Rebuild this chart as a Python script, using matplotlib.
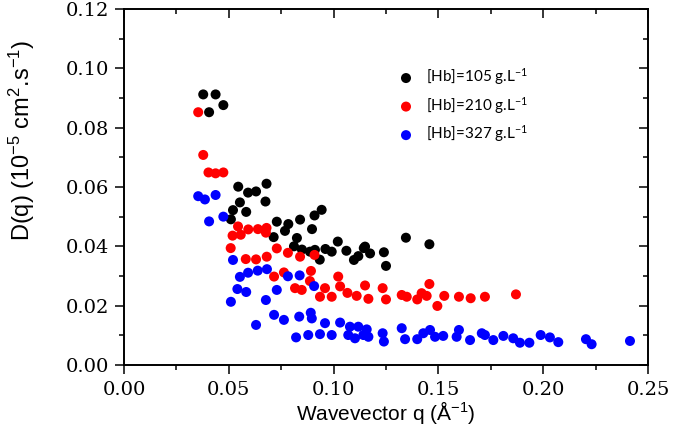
import matplotlib
matplotlib.use("Agg")
from matplotlib import pyplot as plt
from matplotlib.ticker import MultipleLocator

# [Hb]=105 g/L
q_105 = [0.0378, 0.0437, 0.0474, 0.0406, 0.0545, 0.0592, 0.0630, 0.0680, 0.0675, 0.0553,
         0.0520, 0.0583, 0.0510, 0.0729, 0.0784, 0.0840, 0.0768, 0.0714, 0.0825, 0.0909,
         0.0943, 0.0897, 0.0811, 0.0849, 0.0887, 0.0911, 0.0934, 0.0961, 0.0991, 0.1020,
         0.1061, 0.1097, 0.1118, 0.1144, 0.1150, 0.1174, 0.1240, 0.1250, 0.1345, 0.1457]
d_105 = [0.0912, 0.0912, 0.0876, 0.0852, 0.0601, 0.0581, 0.0585, 0.0611, 0.0551, 0.0548,
         0.0522, 0.0516, 0.0491, 0.0483, 0.0475, 0.0490, 0.0452, 0.0431, 0.0428, 0.0504,
         0.0523, 0.0458, 0.0400, 0.0389, 0.0382, 0.0388, 0.0355, 0.0391, 0.0382, 0.0416,
         0.0385, 0.0354, 0.0367, 0.0394, 0.0399, 0.0376, 0.0380, 0.0334, 0.0429, 0.0407]

# [Hb]=210 g/L
q_210 = [0.0354, 0.0378, 0.0403, 0.0437, 0.0474, 0.0544, 0.0593, 0.0639, 0.0680, 0.0518,
         0.0557, 0.0509, 0.0581, 0.0630, 0.0681, 0.0677, 0.0729, 0.0782, 0.0840, 0.0909,
         0.0716, 0.0763, 0.0816, 0.0848, 0.0892, 0.0887, 0.0935, 0.0959, 0.0991, 0.1022,
         0.1031, 0.1066, 0.1110, 0.1150, 0.1166, 0.1234, 0.1250, 0.1325, 0.1349, 0.1399,
         0.1420, 0.1444, 0.1457, 0.1495, 0.1528, 0.1598, 0.1654, 0.1722, 0.1870]
d_210 = [0.0852, 0.0708, 0.0649, 0.0646, 0.0649, 0.0467, 0.0457, 0.0458, 0.0462, 0.0436,
         0.0439, 0.0394, 0.0357, 0.0356, 0.0365, 0.0446, 0.0393, 0.0378, 0.0365, 0.0371,
         0.0298, 0.0312, 0.0259, 0.0253, 0.0317, 0.0283, 0.0230, 0.0259, 0.0230, 0.0298,
         0.0265, 0.0243, 0.0233, 0.0268, 0.0223, 0.0259, 0.0221, 0.0236, 0.0230, 0.0221,
         0.0242, 0.0233, 0.0273, 0.0199, 0.0233, 0.0230, 0.0225, 0.0230, 0.0238]

# [Hb]=327 g/L
q_327 = [0.0354, 0.0386, 0.0437, 0.0474, 0.0406, 0.0520, 0.0553, 0.0592, 0.0638, 0.0682,
         0.0541, 0.0583, 0.0510, 0.0677, 0.0630, 0.0729, 0.0782, 0.0838, 0.0907, 0.0716,
         0.0763, 0.0836, 0.0891, 0.0896, 0.0959, 0.1031, 0.1078, 0.1118, 0.1158, 0.0821,
         0.0879, 0.0935, 0.0991, 0.1070, 0.1102, 0.1142, 0.1166, 0.1234, 0.1240, 0.1325,
         0.1341, 0.1399, 0.1428, 0.1460, 0.1484, 0.1523, 0.1598, 0.1587, 0.1651, 0.1707,
         0.1722, 0.1762, 0.1810, 0.1857, 0.1889, 0.1934, 0.1988, 0.2032, 0.2072, 0.2204,
         0.2231, 0.2414]
d_327 = [0.0569, 0.0558, 0.0573, 0.0500, 0.0484, 0.0354, 0.0297, 0.0311, 0.0318, 0.0323,
         0.0256, 0.0246, 0.0213, 0.0219, 0.0135, 0.0253, 0.0299, 0.0302, 0.0266, 0.0169,
         0.0152, 0.0163, 0.0176, 0.0157, 0.0141, 0.0143, 0.0129, 0.0129, 0.0120, 0.0093,
         0.0101, 0.0104, 0.0101, 0.0101, 0.0090, 0.0101, 0.0095, 0.0107, 0.0079, 0.0124,
         0.0087, 0.0087, 0.0107, 0.0118, 0.0095, 0.0098, 0.0118, 0.0095, 0.0084, 0.0107,
         0.0101, 0.0084, 0.0098, 0.0090, 0.0075, 0.0075, 0.0101, 0.0093, 0.0077, 0.0087,
         0.0070, 0.0081]

labels = ["[Hb]=105 g.L$^{-1}$", "[Hb]=210 g.L$^{-1}$", "[Hb]=327 g.L$^{-1}$"]
colors = ["#000000", "#ff0000", "#0000ff"]

plt.rcParams["mathtext.default"] = "regular"

fig = plt.figure(figsize=(6.75, 4.38), dpi=100)
ax = fig.add_axes([0.1837, 0.1667, 0.7763, 0.8128])

for q, d, label, color in zip([q_105, q_210, q_327], [d_105, d_210, d_327], labels, colors):
    ax.scatter(q, d, s=52, color=color, edgecolors="none", label=label)

ax.set_xlim(0, 0.25)
ax.set_ylim(0, 0.12)
ax.xaxis.set_major_locator(MultipleLocator(0.05))
ax.xaxis.set_minor_locator(MultipleLocator(0.025))
ax.yaxis.set_major_locator(MultipleLocator(0.02))
ax.yaxis.set_minor_locator(MultipleLocator(0.01))
ax.xaxis.set_major_formatter(lambda v, p: f"{v:.2f}")
ax.yaxis.set_major_formatter(lambda v, p: f"{v:.2f}")

for side in ax.spines.values():
    side.set_linewidth(1.4)
ax.tick_params(which="both", width=1.1, direction="out", top=True, right=True)
ax.tick_params(which="major", length=6.5)
ax.tick_params(which="minor", length=3.8)
ax.tick_params(axis="x", which="major", pad=5)
ax.tick_params(axis="y", which="major", pad=4)
# top and right ticks point inward
for t in ax.xaxis.get_ticklines(minor=False)[1::2] + ax.xaxis.get_ticklines(minor=True)[1::2]:
    t.set_marker(3)
for t in ax.yaxis.get_ticklines(minor=False)[1::2] + ax.yaxis.get_ticklines(minor=True)[1::2]:
    t.set_marker(0)
for lbl in ax.get_xticklabels() + ax.get_yticklabels():
    lbl.set_fontfamily("DejaVu Serif")
    lbl.set_fontsize(14)

ax.set_xlabel("Wavevector q (Å$^{-1}$)", fontfamily="Liberation Sans", fontsize=15, labelpad=0)
ax.set_ylabel("D(q) (10$^{-5}$ cm$^{2}$.s$^{-1}$)", fontfamily="Liberation Sans", fontsize=17)
ax.yaxis.set_label_coords(-0.166, 0.63)

ax.legend(loc="upper left", bbox_to_anchor=(0.509, 0.86), frameon=False, borderpad=0,
          handlelength=1.0, handletextpad=0.8, labelspacing=0.5,
          prop={"family": "Lato", "size": 11})

fig.savefig("out.png", dpi=100)
